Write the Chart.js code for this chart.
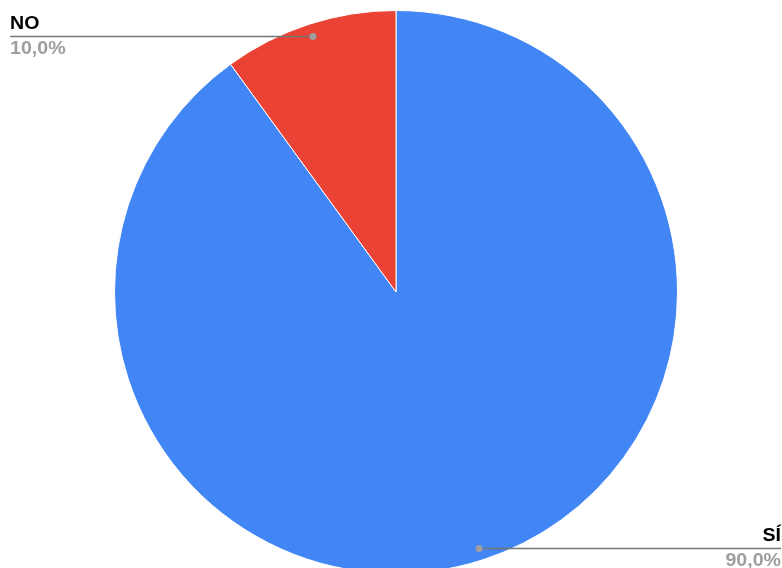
<!DOCTYPE html>
<html>
<head>
<meta charset="utf-8">
<script src="https://cdn.jsdelivr.net/npm/chart.js@4.4.1/dist/chart.umd.min.js"></script>
<style>
  html, body { margin: 0; padding: 0; background: #fff; overflow: hidden; }
  #wrap { position: relative; width: 782px; height: 576px; }
</style>
</head>
<body>
<div id="wrap"><canvas id="pie"></canvas></div>
<script>
const labels = ["SÍ", "NO"];
const values = [90, 10];
const percentLabels = ["90,0%", "10,0%"];
const colors = ["#4285F4", "#EA4335"];

// etiquetas con línea guía, al estilo de Google Sheets
const leaderLabels = {
  id: "leaderLabels",
  afterDatasetsDraw(chart) {
    const ctx = chart.ctx;
    const arcs = chart.getDatasetMeta(0).data;
    const w = 782;
    arcs.forEach((arc, i) => {
      const p = arc.getProps(["x", "y", "startAngle", "endAngle", "outerRadius"], true);
      const mid = (p.startAngle + p.endAngle) / 2;
      const dx = p.x + Math.cos(mid) * p.outerRadius * 0.955;
      const dy = Math.round(p.y + Math.sin(mid) * p.outerRadius * 0.955) + 0.5;
      const left = Math.cos(mid) < 0;
      const endX = left ? 10 : w - 1;

      ctx.save();
      ctx.strokeStyle = "#757575";
      ctx.lineWidth = 1.5;
      ctx.beginPath();
      ctx.moveTo(dx, dy);
      ctx.lineTo(endX, dy);
      ctx.stroke();

      ctx.fillStyle = "#9e9e9e";
      ctx.beginPath();
      ctx.arc(dx, dy, 3.5, 0, Math.PI * 2);
      ctx.fill();

      // el texto del original sale algo ensanchado
      ctx.translate(endX, dy);
      ctx.scale(1.12, 1);
      ctx.textAlign = left ? "left" : "right";
      ctx.textBaseline = "alphabetic";
      ctx.font = "bold 17.5px 'Liberation Sans', Arial, sans-serif";
      ctx.fillStyle = "#000";
      ctx.fillText(labels[i], 0, -7.5);
      ctx.fillStyle = "#9e9e9e";
      ctx.fillText(percentLabels[i], 0, 17);
      ctx.restore();
    });
  }
};

new Chart(document.getElementById("pie"), {
  type: "pie",
  data: {
    labels: labels,
    datasets: [{
      data: values,
      backgroundColor: colors,
      borderColor: "#ffffff",
      borderWidth: 1
    }]
  },
  options: {
    responsive: true,
    maintainAspectRatio: false,
    animation: false,
    layout: { padding: { left: 114, right: 104, top: 10, bottom: 2 } },
    plugins: {
      legend: { display: false },
      tooltip: { enabled: false }
    }
  },
  plugins: [leaderLabels]
});
</script>
</body>
</html>
